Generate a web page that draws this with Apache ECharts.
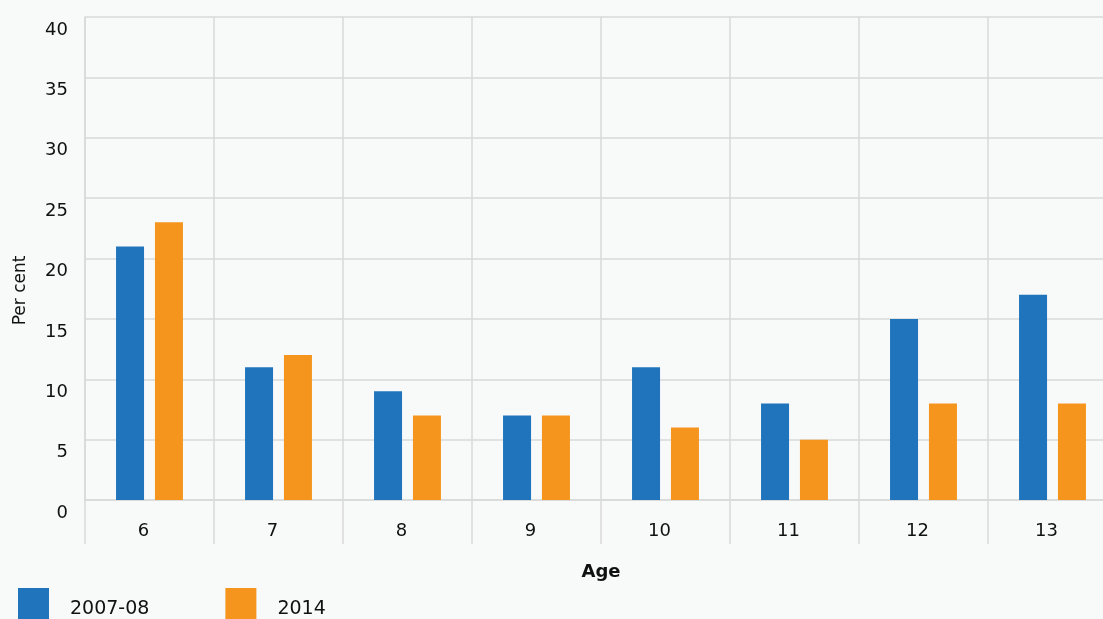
<!DOCTYPE html>
<html>
<head>
<meta charset="utf-8">
<script src="https://cdn.jsdelivr.net/npm/echarts@6/dist/echarts.min.js"></script>
<style>
html,body{margin:0;padding:0;background:#ffffff;}
#chart{width:1103px;height:619px;}
</style>
</head>
<body>
<div id="chart"></div>
<script>
const categories = ['6', '7', '8', '9', '10', '11', '12', '13'];
const series2007 = [21, 11, 9, 7, 11, 8, 15, 17];
const series2014 = [23, 12, 7, 7, 6, 5, 8, 8];
const seriesNames = ['2007-08', '2014'];
const yTicks = { min: 0, max: 40, interval: 5 };

const chart = echarts.init(document.getElementById('chart'));
const font = '"DejaVu Sans", "Noto Sans", sans-serif';
chart.setOption({
  backgroundColor: '#f8f9f9',
  animation: false,
  textStyle: { fontFamily: font },
  grid: { left: 85, top: 17, bottom: 119, right: -14, containLabel: false, outerBoundsMode: 'none' },
  legend: {
    left: 13, top: 583,
    itemWidth: 31, itemHeight: 31, itemGap: 76,
    icon: 'rect',
    formatter: '{t|{name}}',
    textStyle: {
      fontSize: 19, color: '#111', fontFamily: font,
      rich: { t: { fontSize: 19, color: '#111', fontFamily: font, padding: [12, 0, 0, 16] } }
    },
    data: seriesNames
  },
  xAxis: {
    type: 'category',
    data: categories,
    name: 'Age',
    nameLocation: 'middle',
    nameGap: 63,
    nameTextStyle: { fontSize: 18, fontWeight: 'bold', color: '#111', fontFamily: font },
    axisLine: { show: true, lineStyle: { color: '#d9d9d9', width: 1.5 } },
    axisTick: { show: true, length: 44, lineStyle: { color: '#d9d9d9', width: 1.5 } },
    axisLabel: { fontSize: 18, color: '#111', margin: 22, fontFamily: font, padding: [0, 12, 0, 0] },
    splitLine: { show: true, lineStyle: { color: '#d9d9d9', width: 1.5 } }
  },
  yAxis: {
    type: 'value',
    min: yTicks.min, max: yTicks.max, interval: yTicks.interval,
    name: 'Per cent',
    nameLocation: 'middle',
    nameGap: 56,
    nameTextStyle: { fontSize: 17, color: '#111', fontFamily: font, padding: [0, 64, 0, 0] },
    axisLine: { show: true, lineStyle: { color: '#d9d9d9', width: 1.5 } },
    axisTick: { show: false },
    axisLabel: { fontSize: 18, color: '#111', margin: 17, fontFamily: font, verticalAlign: 'top', padding: [4, 0, 0, 0] },
    splitLine: { show: true, lineStyle: { color: '#d9d9d9', width: 1.5 } }
  },
  series: [
    { name: seriesNames[0], type: 'bar', data: series2007, barWidth: 28, barGap: '39%',
      itemStyle: { color: '#1f74bc' } },
    { name: seriesNames[1], type: 'bar', data: series2014, barWidth: 28,
      itemStyle: { color: '#f5951e' } }
  ]
});
</script>
</body>
</html>
